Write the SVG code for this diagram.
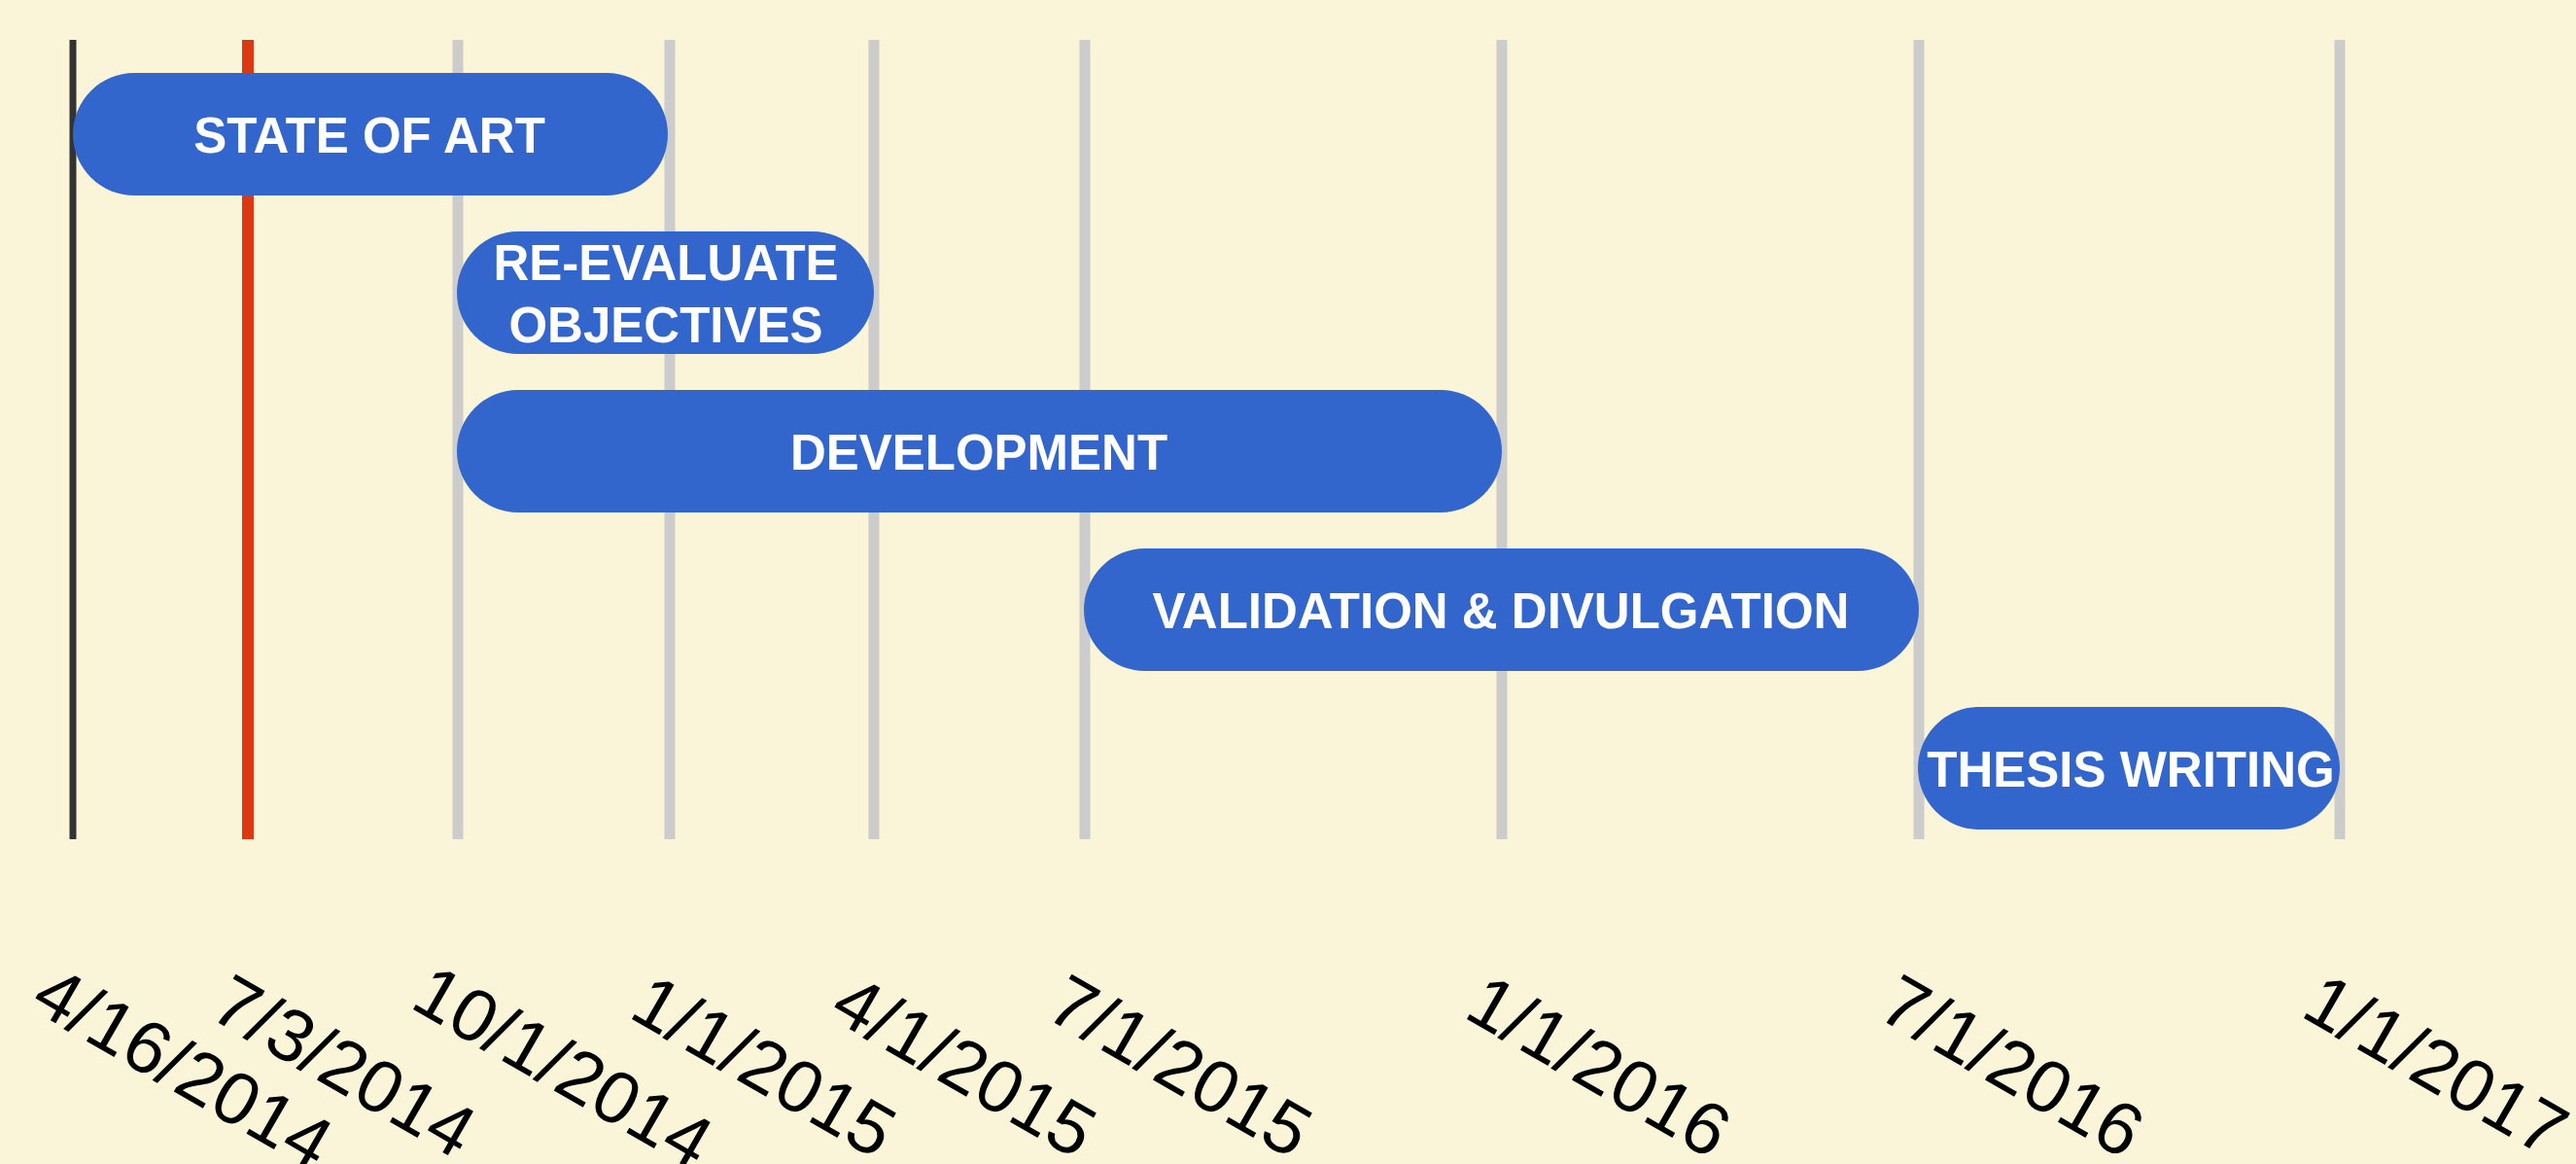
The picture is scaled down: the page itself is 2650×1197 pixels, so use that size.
<svg xmlns="http://www.w3.org/2000/svg" width="2650" height="1197" viewBox="0 0 2650 1197">
<style>
.grid{stroke:#cccccc;stroke-width:11}
.bar{fill:#3366cc}
.lbl{font-family:"Liberation Sans",Arial,sans-serif;font-weight:bold;font-size:51px;fill:#ffffff;text-anchor:middle}
.date{font-family:"Liberation Sans",Arial,sans-serif;font-size:76px;fill:#000000}
</style>
<rect x="0" y="0" width="2650" height="1197" fill="#faf5d9"/>
<g id="gridlines">
<line class="grid" x1="471" y1="41" x2="471" y2="863"/>
<line class="grid" x1="689" y1="41" x2="689" y2="863"/>
<line class="grid" x1="899" y1="41" x2="899" y2="863"/>
<line class="grid" x1="1116" y1="41" x2="1116" y2="863"/>
<line class="grid" x1="1545" y1="41" x2="1545" y2="863"/>
<line class="grid" x1="1974" y1="41" x2="1974" y2="863"/>
<line class="grid" x1="2407" y1="41" x2="2407" y2="863"/>
<line x1="255" y1="41" x2="255" y2="863" stroke="#dc3912" stroke-width="12"/>
<line x1="75" y1="41" x2="75" y2="863" stroke="#333333" stroke-width="7"/>
</g>
<g id="state-of-art">
<rect class="bar" x="75" y="75" width="612" height="126" rx="63" ry="63"/>
<text class="lbl" x="380" y="157">STATE OF ART</text>
</g>
<g id="re-evaluate-objectives">
<rect class="bar" x="470" y="238" width="429" height="126" rx="63" ry="63"/>
<text class="lbl" x="685" y="288">RE-EVALUATE</text>
<text class="lbl" x="685" y="352">OBJECTIVES</text>
</g>
<g id="development">
<rect class="bar" x="470" y="401" width="1075" height="126" rx="63" ry="63"/>
<text class="lbl" x="1007" y="483">DEVELOPMENT</text>
</g>
<g id="validation-divulgation">
<rect class="bar" x="1115" y="564" width="859" height="126" rx="63" ry="63"/>
<text class="lbl" x="1544" y="646">VALIDATION &amp; DIVULGATION</text>
</g>
<g id="thesis-writing">
<rect class="bar" x="1973" y="727" width="434" height="126" rx="63" ry="63"/>
<text class="lbl" x="2192" y="809">THESIS WRITING</text>
</g>
<g id="connectors"></g>
<g id="axis-labels">
<text class="date" transform="translate(29,1036) rotate(30)">4/16/2014</text>
<text class="date" transform="translate(213,1045) rotate(30)">7/3/2014</text>
<text class="date" transform="translate(420,1035) rotate(30)">10/1/2014</text>
<text class="date" transform="translate(645,1045) rotate(30)">1/1/2015</text>
<text class="date" transform="translate(851,1045) rotate(30)">4/1/2015</text>
<text class="date" transform="translate(1073,1045) rotate(30)">7/1/2015</text>
<text class="date" transform="translate(1504,1045) rotate(30)">1/1/2016</text>
<text class="date" transform="translate(1929,1045) rotate(30)">7/1/2016</text>
<text class="date" transform="translate(2365,1044) rotate(30)">1/1/2017</text>
</g>
</svg>
